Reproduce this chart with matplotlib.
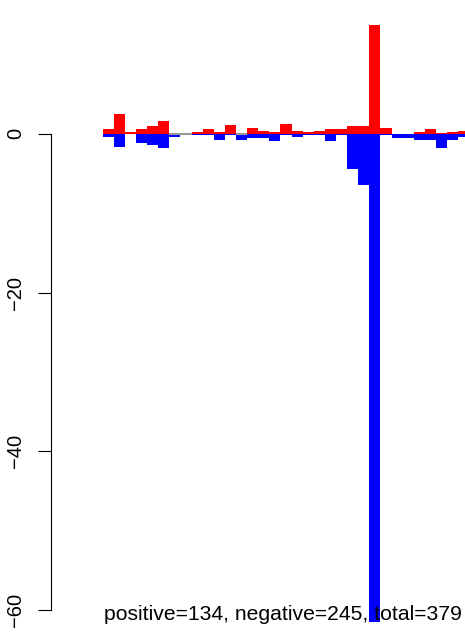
import numpy as np
import matplotlib
matplotlib.use("Agg")
import matplotlib.pyplot as plt

plt.rcParams['font.family'] = ['Liberation Sans', 'DejaVu Sans']

# values (one bar per bin, red = up, blue = down)
nan = np.nan
positive = [0.57, 2.45, 0.23, 0.57, 0.94, 1.57, 0, 0, 0.23, 0.57, 0.23,
            1.1, 0, 0.69, 0.3, 0.19, 1.2, 0.31, 0.19, 0.31, 0.57, 0.57,
            0.94, 0.94, 13.7, 0.69, nan, nan, 0.19, 0.57, 0.15, 0.19, 0.31]
negative = [-0.4, -1.66, nan, -1.16, -1.41, -1.79, -0.4, 0, -0.15, -0.15,
            -0.8, -0.15, -0.8, -0.57, -0.57, -0.94, -0.15, -0.4, -0.15,
            -0.15, -0.9, -0.15, -4.4, -6.5, -61.5, -0.15, -0.57, -0.57,
            -0.82, -0.82, -1.8, -0.82, -0.4]
yticks = [0, -20, -40, -60]
caption = "positive=134, negative=245, total=379"

W, H = 465, 634
fig = plt.figure(figsize=(W / 100, H / 100), dpi=100)
# axes deliberately runs past the right and bottom edge (reference is cropped)
ax = fig.add_axes([51 / W, (H - 650) / H, 469 / W, 649 / H])

x = np.arange(len(positive))
pos = np.array(positive, dtype=float)
neg = np.array(negative, dtype=float)

ax.bar(x, np.nan_to_num(neg), width=1.0, align='edge', color='#0000ff',
       linewidth=0)
ax.bar(x, np.nan_to_num(pos), width=1.0, align='edge', color='#ff0000',
       linewidth=0)
# zero-height red bins show up as a thin grey line
for i in x[pos == 0]:
    ax.hlines(0, i, i + 1, color='#999999', lw=1.5)

ax.set_xlim(-4.65, 37.56)
ax.set_ylim(-65.04, 16.73)

for s in ['top', 'right', 'bottom']:
    ax.spines[s].set_visible(False)
ax.spines['left'].set_bounds(-60, 0)
ax.spines['left'].set_linewidth(0.8)
ax.set_xticks([])
ax.set_yticks(yticks)
ax.tick_params(axis='y', length=9.4, width=0.8, pad=9, labelsize=14.5,
               labelrotation=90)
for lab in ax.get_yticklabels():
    lab.set_va('center')

fig.text(103.5 / W, (H - 620) / H, caption, ha='left', va='baseline',
         fontsize=15.2)

fig.savefig("out.png", dpi=100)
